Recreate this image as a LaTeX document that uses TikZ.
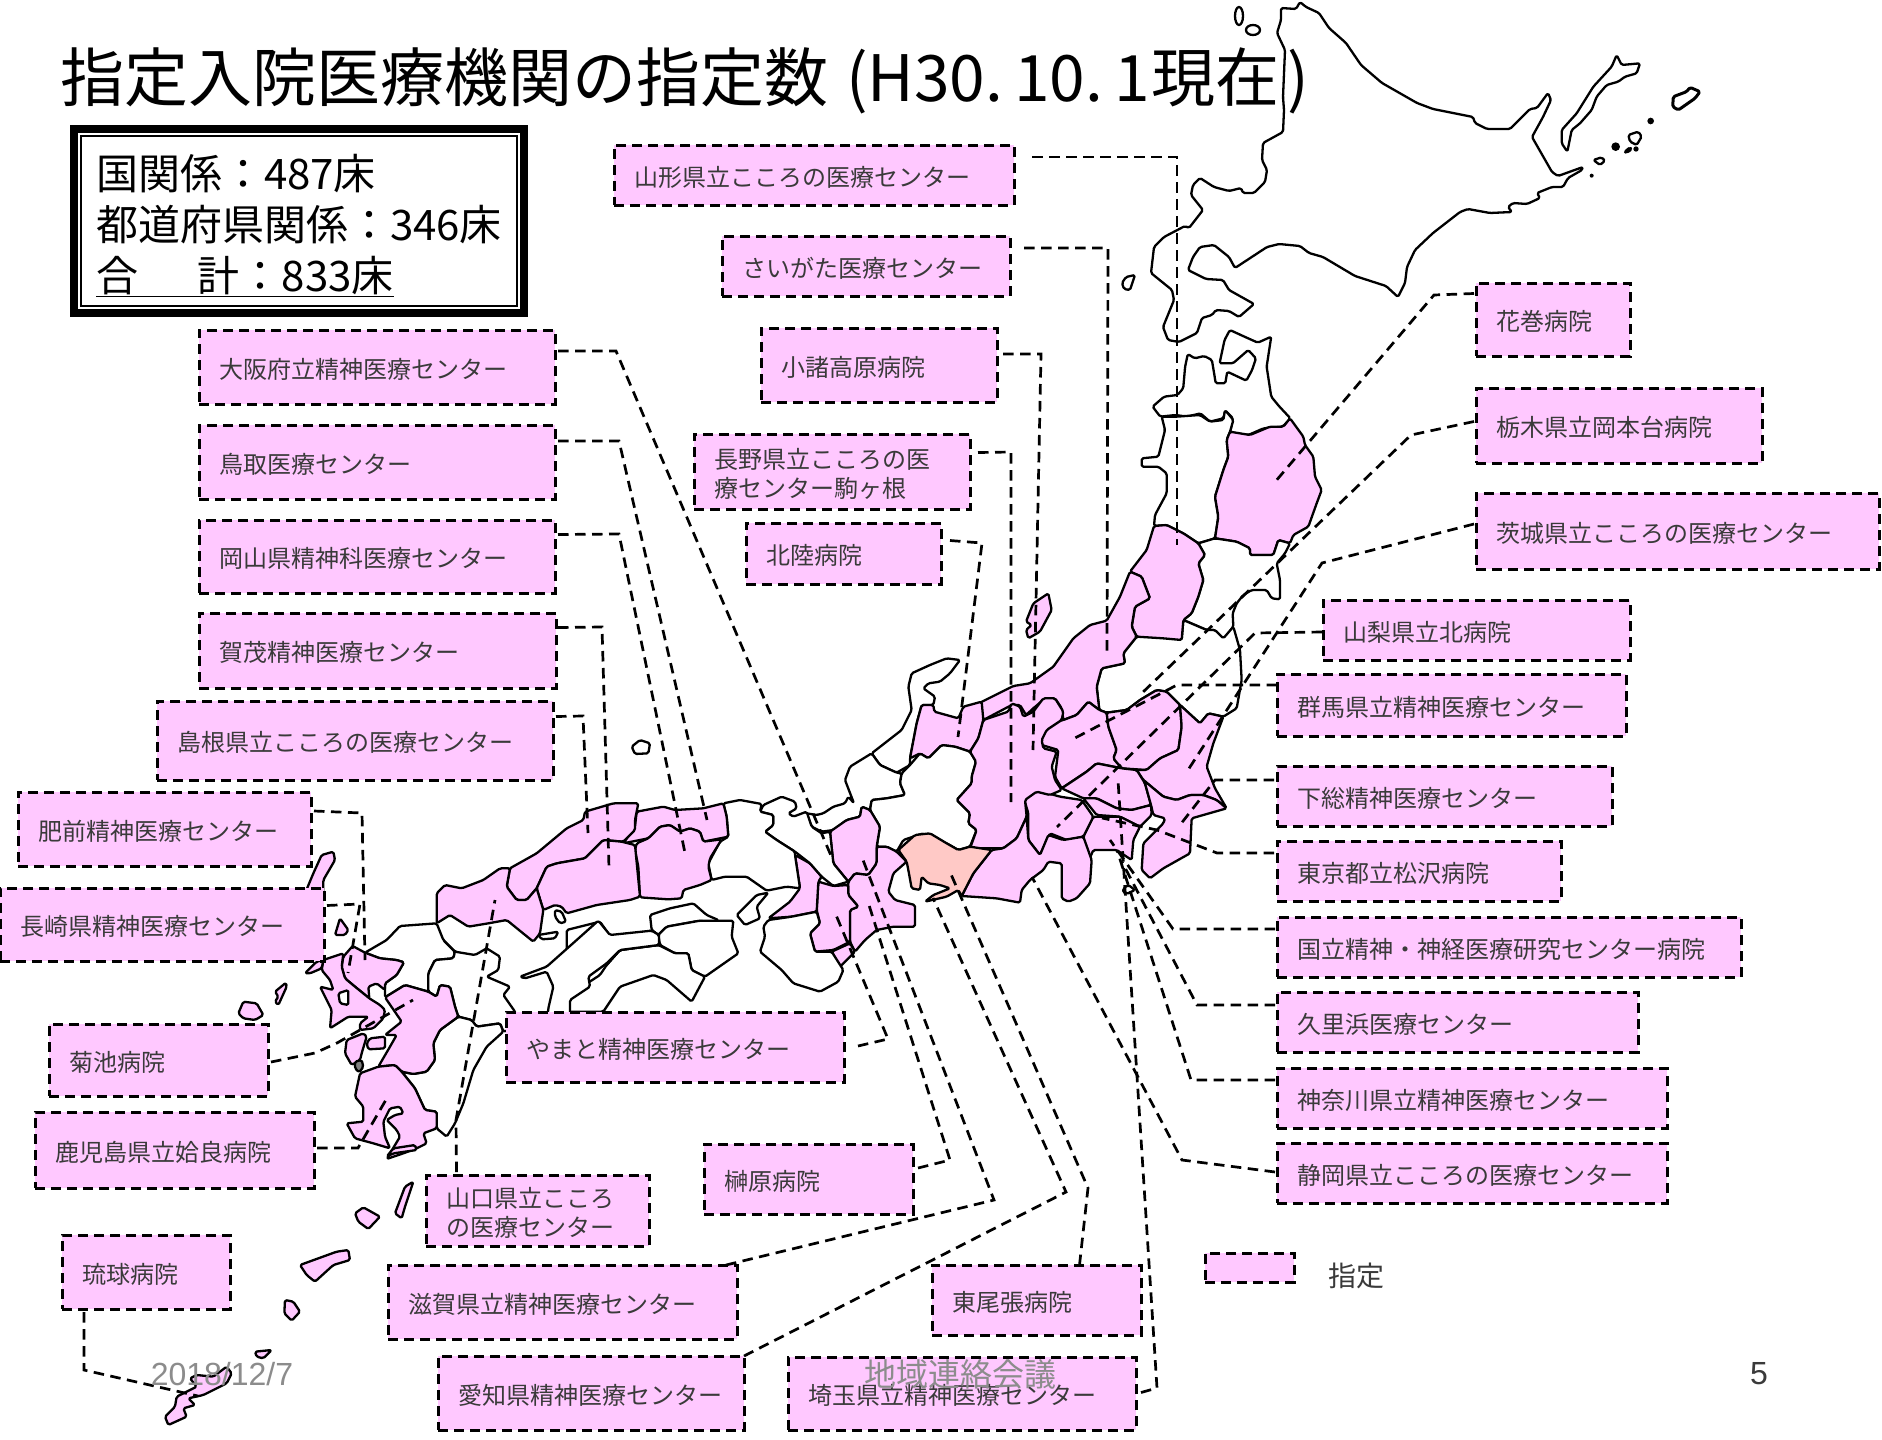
\documentclass[tikz,border=0pt]{standalone}
\usepackage{fontspec}
\setmainfont{Noto Sans CJK JP}
\newfontfamily\latinf{Liberation Sans}
\usetikzlibrary{calc}
\definecolor{pk}{HTML}{FFC8FF}
\definecolor{sal}{HTML}{FFC9C6}
\definecolor{tx}{HTML}{3A3A3A}
\definecolor{gr}{HTML}{8C8C8C}
\tikzset{
 zm/.style n args={3}{x=#1pt,y=-0.33333pt,shift={(#2pt,-#3pt)}},
 geo/.style={draw=black,line width=2.3pt,line join=round,rounded corners=1.6pt},
 pref/.style={geo,fill=pk},
 wpref/.style={geo,fill=white},
 apref/.style={geo,fill=sal},
 conn/.style={draw=black,line width=2.7pt,dash pattern=on 10.5pt off 6.5pt},
 hosp/.style={draw=black,fill=pk,line width=3pt,dash pattern=on 10pt off 6pt,anchor=north west,inner xsep=20pt,inner ysep=0pt,outer sep=0pt,align=left,text=tx,font=\fontsize{24}{29}\selectfont},
 foot/.style={font=\latinf\fontsize{32}{38}\selectfont,text=gr},
}
\newcommand{\bx}[6]{\pgfmathsetmacro{\bw}{#4-#2}\pgfmathsetmacro{\bh}{#5-#3}%
 \node[hosp,minimum width=\bw pt,minimum height=\bh pt,text width=\bw pt-40pt] (#1) at (#2,#3) {\raisebox{-5.5pt}[\height][\depth]{\begin{tabular}{@{}l@{}}#6\end{tabular}}};}
\begin{document}
\begin{tikzpicture}[x=1pt,y=-1pt]
\useasboundingbox (0,0) rectangle (1882,1440);
\fill[white] (0,0) rectangle (1882,1440);
% ---- Hokkaido
\draw[wpref] (1300,2)--(1306,7)--(1319,13)--(1329,28)--(1346,43)--(1361,65)--(1382,83)--(1417,103)--(1433,109)--(1473,117)--(1475,123)--(1487,129)--(1510,129)--(1530,109)--(1537,108)--(1548,93)--(1551,100)--(1543,117)--(1532,137)--(1552,172)--(1558,176)--(1583,167)--(1582,170)--(1568,178)--(1563,187)--(1552,187)--(1537,193)--(1540,198)--(1527,204)--(1513,203)--(1508,207)--(1512,212)--(1490,213)--(1468,209)--(1460,212)--(1433,233)--(1415,250)--(1407,267)--(1405,283)--(1398,297)--(1386,286)--(1355,276)--(1323,257)--(1309,253)--(1300,246)--(1279,244)--(1267,247)--(1235,268)--(1229,257)--(1214,245)--(1200,247)--(1193,257)--(1188,270)--(1206,279)--(1223,280)--(1229,290)--(1254,304)--(1239,317)--(1229,311)--(1216,310)--(1212,315)--(1202,318)--(1197,333)--(1179,342)--(1168,340)--(1163,327)--(1174,300)--(1172,290)--(1151,273)--(1154,247)--(1164,237)--(1185,226)--(1189,228)--(1203,210)--(1191,195)--(1193,185)--(1200,178)--(1214,187)--(1229,191)--(1241,188)--(1243,193)--(1254,193)--(1265,182)--(1267,170)--(1262,160)--(1263,143)--(1283,132)--(1284,110)--(1283,97)--(1285,50)--(1277,33)--(1281,20)--(1281,8)--(1296,9)--cycle;
\draw[wpref] (1122,283)--(1126,277)--(1135,275)--(1130,290)--(1124,289)--cycle;
\draw[geo] (1239,16) ellipse [x radius=4,y radius=9];
\draw[geo] (1253,30) ellipse [x radius=7,y radius=5];
\begin{scope}[zm={0.33333}{1380}{30}]
\draw[wpref] (545,300)--(590,250)--(640,170)--(695,110)--(710,75)--(725,105)--(780,100)--(770,130)--(735,140)--(715,155)--(680,165)--(650,200)--(635,240)--(600,280)--(575,300)--(562,365)--(545,340)--cycle;
\draw[wpref] (640,390)--(665,382)--(675,392)--(660,405)--cycle;
\fill (635,437) circle [radius=6];
\fill (707,350) circle [radius=13];
\draw[geo,fill=black] (733,366)--(750,352)--(755,358)--(740,368)--cycle;
\fill (768,357) circle [radius=8];
\draw[wpref] (745,315)--(775,305)--(785,320)--(770,345)--(750,335)--cycle;
\fill (812,273) circle [radius=10];
\draw[wpref,line width=3pt] (880,200)--(920,185)--(930,172)--(960,185)--(945,205)--(895,240)--(878,230)--cycle;
\end{scope}
% ---- Tohoku (zoom 1 = Aomori)
\begin{scope}[zm={0.38270}{900}{0}]
\draw[wpref] (752,1062)--(745,1100)--(740,1165)--(725,1185)--(690,1190)--(660,1220)--(680,1250)--(720,1245)--(750,1250)--(785,1240)--(810,1265)--(845,1255)--(850,1232)--(870,1255)--(862,1300)--(910,1305)--(950,1285)--(1000,1280)--(1020,1255)--(990,1218)--(970,1190)--(958,1100)--(970,1010)--(935,1028)--(900,1010)--(862,990)--(848,1020)--(835,1090)--(870,1090)--(910,1050)--(930,1075)--(920,1110)--(905,1142)--(855,1115)--(850,1150)--(825,1150)--(815,1080)--(795,1068)--(770,1075)--cycle;
\end{scope}
\begin{scope}[zm={0.33333}{950}{400}]
\draw[wpref] (635,50)--(680,50)--(750,45)--(780,65)--(820,60)--(825,30)--(850,60)--(840,95)--(830,120)--(835,170)--(820,210)--(795,290)--(805,350)--(795,415)--(745,430)--(700,400)--(650,375)--(612,378)--(615,345)--(650,280)--(650,220)--(625,200)--(575,200)--(575,175)--(625,170)--(645,90)--cycle;
\draw[pref] (840,95)--(900,105)--(960,80)--(1000,80)--(1020,55)--(1060,110)--(1065,135)--(1090,170)--(1095,230)--(1115,270)--(1100,310)--(1075,380)--(1030,405)--(1020,430)--(985,420)--(970,465)--(900,465)--(900,445)--(860,425)--(795,415)--(805,350)--(795,290)--(820,210)--(835,170)--(830,120)--cycle;
\draw[wpref] (745,430)--(795,415)--(860,425)--(900,445)--(900,465)--(970,465)--(985,420)--(1020,430)--(1005,460)--(980,490)--(990,540)--(990,598)--(965,595)--(950,570)--(905,570)--(880,585)--(860,610)--(848,640)--(850,680)--(820,720)--(795,690)--(770,690)--(700,660)--(725,640)--(745,590)--(760,540)--(745,490)--(765,465)--cycle;
\draw[wpref] (700,660)--(770,690)--(795,690)--(820,715)--(850,680)--(870,750)--(875,840)--(860,925)--(820,950)--(775,940)--(750,970)--(690,915)--(650,875)--(620,870)--(570,900)--(530,930)--(470,938)--(448,930)--(440,860)--(455,805)--(525,790)--(520,760)--(560,710)--(640,705)--(695,720)--cycle;
\draw[pref] (612,378)--(650,375)--(700,400)--(745,430)--(765,465)--(745,490)--(760,540)--(745,590)--(725,640)--(700,660)--(695,720)--(640,715)--(560,710)--(545,680)--(555,620)--(600,595)--(575,530)--(540,515)--(590,450)--cycle;
\draw[pref] (540,515)--(575,530)--(600,595)--(555,620)--(545,680)--(560,710)--(520,760)--(525,790)--(455,805)--(440,860)--(448,930)--(415,905)--(380,945)--(340,960)--(335,925)--(315,895)--(285,895)--(250,925)--(228,945)--(210,915)--(185,915)--(100,960)--(90,908)--(190,858)--(240,850)--(310,800)--(370,715)--(420,675)--(470,662)--(510,590)--cycle;
\draw[pref] (295,580)--(305,630)--(270,695)--(235,715)--(228,690)--(245,675)--(228,665)--(250,610)--cycle;
% Kanto
\draw[pref] (448,930)--(470,938)--(475,980)--(500,1050)--(490,1075)--(515,1105)--(440,1090)--(410,1115)--(335,1165)--(315,1130)--(325,1050)--(275,1035)--(275,1000)--(300,970)--(340,960)--(380,945)--(415,905)--cycle;
\draw[pref] (470,938)--(530,930)--(570,900)--(620,870)--(650,875)--(690,915)--(695,980)--(685,1050)--(630,1075)--(590,1110)--(515,1105)--(490,1075)--(500,1050)--(475,980)--cycle;
\draw[pref] (690,915)--(750,970)--(775,940)--(820,950)--(790,1030)--(770,1100)--(795,1165)--(830,1225)--(800,1200)--(760,1185)--(720,1185)--(680,1200)--(640,1190)--(580,1140)--(560,1110)--(590,1110)--(630,1075)--(685,1050)--(695,980)--cycle;
\draw[pref] (335,1165)--(410,1115)--(440,1090)--(515,1105)--(560,1110)--(585,1150)--(603,1215)--(545,1230)--(500,1225)--(440,1195)--(400,1195)--cycle;
\draw[pref] (580,1140)--(640,1190)--(680,1200)--(720,1185)--(760,1185)--(800,1200)--(830,1225)--(725,1255)--(720,1360)--(640,1405)--(600,1435)--(575,1410)--(580,1330)--(640,1270)--(645,1255)--(610,1245)--(603,1215)--(585,1150)--cycle;
\draw[pref] (400,1195)--(440,1195)--(500,1225)--(545,1230)--(603,1215)--(605,1245)--(570,1280)--(510,1250)--(440,1245)--cycle;
\draw[pref] (430,1250)--(510,1250)--(570,1280)--(550,1320)--(545,1380)--(500,1350)--(430,1350)--(415,1385)--(400,1310)--cycle;
\draw[pref] (220,1190)--(260,1170)--(330,1190)--(395,1200)--(430,1250)--(400,1310)--(350,1320)--(300,1300)--(270,1365)--(235,1320)--(235,1240)--cycle;
\draw[geo,fill=white] (520,1465)--(535,1455)--(555,1470)--(530,1482)--(520,1478)--cycle;
\end{scope}
% ---- Chubu, Kinki, Chugoku-east, Shikoku-east (zoom 3)
\begin{scope}[zm={0.33333}{600}{650}]
\draw[wpref] (1080,30)--(1040,25)--(990,45)--(935,70)--(925,110)--(935,180)--(905,240)--(815,310)--(840,345)--(890,368)--(930,345)--(930,325)--(950,220)--(965,165)--(1000,165)--(1005,140)--(970,115)--(985,100)--(1020,95)--(1050,70)--cycle;
\draw[pref] (965,165)--(1000,165)--(1003,185)--(1075,205)--(1090,170)--(1145,155)--(1150,210)--(1135,265)--(1110,305)--(1065,290)--(1025,285)--(985,325)--(960,310)--(930,325)--(950,220)--cycle;
\draw[wpref] (815,310)--(840,345)--(890,368)--(905,370)--(900,400)--(915,435)--(860,445)--(815,450)--(810,480)--(785,470)--(780,500)--(740,510)--(700,540)--(665,545)--(635,530)--(620,490)--(650,495)--(670,490)--(700,470)--(735,460)--(745,440)--(762,460)--(735,390)--(750,350)--cycle;
\draw[wpref] (905,370)--(930,345)--(960,310)--(985,325)--(1025,285)--(1065,290)--(1110,305)--(1128,335)--(1115,380)--(1115,400)--(1070,450)--(1110,490)--(1105,520)--(1130,540)--(1110,590)--(1075,600)--(1040,580)--(1000,570)--(970,550)--(910,570)--(890,605)--(860,590)--(830,590)--(840,530)--(810,480)--(815,450)--(860,445)--(915,435)--(900,400)--cycle;
\draw[pref] (1110,305)--(1135,265)--(1150,210)--(1225,185)--(1235,160)--(1260,170)--(1270,200)--(1300,185)--(1330,145)--(1365,145)--(1390,185)--(1385,210)--(1340,240)--(1325,270)--(1330,295)--(1370,305)--(1355,350)--(1365,390)--(1385,420)--(1350,435)--(1310,425)--(1275,450)--(1280,500)--(1250,565)--(1210,595)--(1110,595)--(1130,540)--(1105,520)--(1110,490)--(1070,450)--(1115,400)--(1115,380)--(1128,335)--cycle;
\draw[pref] (1175,600)--(1210,595)--(1250,565)--(1280,500)--(1285,570)--(1320,615)--(1345,555)--(1390,570)--(1450,560)--(1475,630)--(1470,700)--(1430,745)--(1405,755)--(1385,745)--(1385,640)--(1345,635)--(1330,660)--(1290,690)--(1265,720)--(1260,758)--(1190,745)--(1085,738)--(1120,670)--cycle;
\draw[apref] (895,600)--(945,555)--(990,550)--(1040,580)--(1075,600)--(1110,590)--(1175,600)--(1120,670)--(1085,738)--(1075,720)--(1040,740)--(975,755)--(1000,735)--(1050,715)--(1020,705)--(985,700)--(965,680)--(960,720)--(935,715)--(925,660)--(920,635)--cycle;
\draw[pref] (690,545)--(740,510)--(780,500)--(785,470)--(810,480)--(840,530)--(830,590)--(830,640)--(805,675)--(765,670)--(745,695)--(700,640)--cycle;
\draw[pref] (830,590)--(860,590)--(890,605)--(920,635)--(880,670)--(865,725)--(885,750)--(945,765)--(945,830)--(880,830)--(830,840)--(795,870)--(765,905)--(750,875)--(750,780)--(775,770)--(745,735)--(745,695)--(765,670)--(805,675)--(830,640)--cycle;
\draw[pref] (655,695)--(700,708)--(745,705)--(745,735)--(775,770)--(750,780)--(750,875)--(700,900)--(645,905)--(630,850)--(660,820)--(650,780)--cycle;
\draw[pref] (695,905)--(750,880)--(765,905)--(720,950)--cycle;
\draw[pref] (585,615)--(630,640)--(665,680)--(655,695)--(650,785)--(575,800)--(505,805)--(570,755)--(600,715)--cycle;
\draw[wpref] (505,810)--(575,800)--(650,785)--(660,820)--(630,850)--(645,905)--(695,905)--(730,960)--(715,995)--(660,1025)--(580,1000)--(545,960)--(480,905)--(495,860)--(490,830)--cycle;
\draw[wpref] (490,465)--(545,440)--(585,455)--(590,475)--(565,490)--(580,500)--(620,485)--(635,530)--(665,550)--(690,545)--(700,640)--(745,695)--(700,708)--(665,680)--(630,640)--(585,605)--(530,570)--(495,545)--(520,525)--(520,495)--(480,485)--cycle;
\draw[wpref] (370,460)--(420,450)--(485,462)--(480,485)--(520,495)--(520,525)--(495,545)--(530,570)--(585,605)--(585,615)--(600,715)--(560,710)--(500,722)--(440,680)--(375,680)--(335,690)--(325,640)--(360,575)--(385,560)--(380,500)--cycle;
\draw[wpref] (505,728)--(470,735)--(410,795)--(435,825)--(480,805)--(470,770)--cycle;
\draw[pref] (110,485)--(190,470)--(225,480)--(310,475)--(370,460)--(380,500)--(385,560)--(310,575)--(300,545)--(270,535)--(240,545)--(210,525)--(180,530)--(145,565)--(70,580)--(105,530)--cycle;
\draw[pref] (110,580)--(145,565)--(180,530)--(210,525)--(240,545)--(270,535)--(300,545)--(310,575)--(365,568)--(330,625)--(325,650)--(335,690)--(300,705)--(250,720)--(245,745)--(205,748)--(120,742)--(115,650)--(105,600)--cycle;
\draw[wpref] (95,290)--(120,270)--(150,280)--(145,310)--(105,312)--cycle;
% Shikoku east
\draw[wpref] (150,795)--(210,775)--(280,760)--(320,795)--(355,810)--(355,822)--(300,812)--(200,830)--(175,855)--(155,840)--cycle;
\draw[wpref] (175,855)--(200,830)--(300,812)--(400,812)--(395,860)--(415,910)--(315,980)--(275,960)--(265,910)--(225,910)--(180,885)--cycle;
\draw[wpref] (175,885)--(225,910)--(265,910)--(275,960)--(315,980)--(275,1055)--(200,990)--(160,975)--(60,1010)--(10,1085)--(-100,1085)--(-100,1000)--(20,945)--(60,900)--cycle;
\draw[wpref] (-100,840)--(0,815)--(30,858)--(130,852)--(155,840)--(175,855)--(175,885)--(60,900)--(20,945)--(0,975)--(-100,1040)--cycle;
\end{scope}
% ---- Chugoku west, Kyushu (zoom 4)
\begin{scope}[zm={0.33333}{280}{760}]
\draw[pref] (690,325)--(695,322)--(770,280)--(860,205)--(910,180)--(915,155)--(1000,130)--(1075,130)--(1065,180)--(1065,210)--(1030,245)--(970,240)--(915,295)--(830,310)--(800,320)--(770,385)--(740,420)--(710,420)--(680,380)--cycle;
\draw[pref] (770,385)--(800,320)--(830,310)--(915,295)--(970,240)--(1025,245)--(1065,255)--(1080,410)--(1050,420)--(950,435)--(860,460)--(845,440)--(825,435)--(790,450)--cycle;
\draw[pref] (470,490)--(470,400)--(495,375)--(545,385)--(610,360)--(660,325)--(690,325)--(680,380)--(710,420)--(740,420)--(770,385)--(790,450)--(780,520)--(760,545)--(680,480)--(625,490)--(565,500)--(510,465)--cycle;
\draw[wpref] (825,450)--(845,455)--(858,485)--(840,490)--(825,470)--cycle;
\draw[wpref] (775,525)--(835,515)--(825,535)--(785,538)--cycle;
% Shikoku west
\draw[wpref] (720,650)--(800,620)--(890,540)--(955,482)--(990,525)--(1115,512)--(1137,525)--(1137,555)--(1020,570)--(980,610)--(925,650)--(930,680)--(870,720)--(870,800)--(800,800)--(805,745)--(820,680)--(800,635)--(735,655)--cycle;
% Kyushu
\draw[wpref] (255,578)--(320,540)--(360,498)--(470,490)--(490,540)--(525,575)--(520,595)--(465,600)--(445,640)--(445,695)--(375,675)--(315,712)--(315,670)--(350,645)--(372,607)--(350,600)--(300,595)--cycle;
\draw[wpref] (490,540)--(525,575)--(585,585)--(620,565)--(660,590)--(655,630)--(620,650)--(690,680)--(670,705)--(705,755)--(720,800)--(670,815)--(660,790)--(590,800)--(575,780)--(535,770)--(525,740)--(510,680)--(480,675)--(470,710)--(445,695)--(445,640)--(465,600)--(520,595)--(525,575)--cycle;
\draw[wpref] (535,770)--(575,780)--(590,800)--(660,790)--(670,815)--(620,860)--(580,930)--(550,1030)--(525,1090)--(500,1130)--(470,1105)--(470,1055)--(435,1050)--(405,985)--(365,935)--(400,942)--(440,935)--(465,900)--(460,850)--(480,810)--cycle;
\draw[pref] (190,590)--(218,558)--(255,578)--(300,595)--(350,600)--(372,607)--(350,645)--(315,670)--(315,690)--(290,670)--(265,680)--(268,715)--(225,680)--(195,655)--(185,620)--cycle;
\draw[pref] (130,600)--(190,580)--(185,620)--(195,655)--(225,680)--(268,715)--(300,735)--(315,750)--(310,775)--(280,805)--(240,810)--(240,790)--(265,770)--(205,770)--(150,805)--(155,750)--(120,680)--(160,690)--(150,660)--(125,630)--cycle;
\draw[wpref] (175,700)--(205,690)--(205,735)--(180,730)--cycle;
\draw[pref] (315,712)--(375,675)--(445,695)--(470,710)--(480,675)--(510,680)--(525,740)--(535,770)--(480,810)--(460,850)--(465,900)--(440,935)--(400,942)--(365,935)--(345,915)--(295,920)--(330,860)--(350,825)--(315,825)--(365,785)--cycle;
\draw[pref] (260,850)--(270,835)--(315,830)--(315,865)--(265,868)--cycle;
\draw[pref] (200,840)--(250,820)--(260,830)--(245,880)--(240,900)--(215,915)--(195,880)--cycle;
\draw[pref] (240,940)--(295,920)--(345,915)--(365,935)--(405,985)--(435,1050)--(470,1055)--(470,1105)--(430,1120)--(440,1150)--(410,1165)--(370,1180)--(320,1197)--(360,1130)--(350,1110)--(320,1080)--(345,1065)--(370,1060)--(360,1040)--(330,1045)--(310,1085)--(315,1130)--(330,1165)--(280,1150)--(225,1135)--(200,1090)--(250,1085)--(250,1040)--(225,1010)--cycle;
\draw[geo,fill=gray] (225,905)--(245,900)--(250,920)--(238,937)--(225,925)--cycle;
% islands
\draw[pref] (75,400)--(100,340)--(125,285)--(160,275)--(165,300)--(130,360)--(130,400)--cycle;
\draw[pref] (165,525)--(180,475)--(205,510)--(195,525)--cycle;
\draw[pref] (75,640)--(110,605)--(130,600)--(125,625)--(90,640)--cycle;
\end{scope}
\begin{scope}[zm={0.33333}{210}{930}]
\draw[pref] (195,185)--(228,158)--(230,170)--(205,225)--(195,215)--(205,200)--cycle;
\draw[pref] (85,250)--(100,215)--(140,220)--(160,255)--(135,270)--(100,265)--cycle;
\end{scope}
\begin{scope}[zm={0.33333}{100}{1150}]
\draw[pref] (940,95)--(915,170)--(905,205)--(885,190)--(915,110)--cycle;
\draw[pref] (765,190)--(790,172)--(840,200)--(805,237)--(775,215)--cycle;
\draw[pref] (600,345)--(710,305)--(745,300)--(750,330)--(700,345)--(645,395)--(620,375)--cycle;
\draw[pref] (555,450)--(580,455)--(600,485)--(575,512)--(553,490)--cycle;
\draw[pref] (465,605)--(515,600)--(490,625)--(470,620)--cycle;
\draw[pref] (395,670)--(380,650)--(340,680)--(290,675)--(270,685)--(290,710)--(230,740)--(225,770)--(195,800)--(205,825)--(260,800)--(250,775)--(285,765)--(265,745)--(310,735)--(380,700)--cycle;
\draw[pref] (860,20)--(880,10)--(950,0)--(945,-15)--(880,-5)--cycle;
\end{scope}
% ---- connector ends
\coordinate (e1) at (1177,545); \coordinate (e2) at (1107,652); \coordinate (e3) at (1033,750);
\coordinate (e4) at (1011,802); \coordinate (e5) at (958,737); \coordinate (e6) at (832,858);
\coordinate (e7) at (707,820); \coordinate (e8) at (685,853); \coordinate (e9) at (609,868);
\coordinate (e10) at (588,833); \coordinate (e11) at (365,960); \coordinate (e12) at (348,973);
\coordinate (e13) at (413,1000); \coordinate (e14) at (387,1098); \coordinate (e15) at (495,900);
\coordinate (e16) at (836,915); \coordinate (e17) at (868,902); \coordinate (e18) at (198,1396);
\coordinate (e19) at (863,860); \coordinate (e20) at (933,898); \coordinate (e21) at (950,872);
\coordinate (e22) at (1118,780); \coordinate (e23) at (1275,482); \coordinate (e24) at (1142,693);
\coordinate (e25) at (1188,770); \coordinate (e26) at (1057,827); \coordinate (e27) at (1075,738);
\coordinate (e28) at (1180,825); \coordinate (e29) at (1102,818); \coordinate (e30) at (1110,840);
\coordinate (e31) at (1122,862); \coordinate (e32) at (1117,850); \coordinate (e33) at (1032,877);
% ---- boxes
\bx{yamagata}{614}{145}{1014}{205}{山形県立こころの医療センター}
\bx{saigata}{722}{236}{1010}{296}{さいがた医療センター}
\bx{komoro}{761}{328}{997}{402}{小諸高原病院}
\bx{nagano}{694}{434}{970}{509}{長野県立こころの医\\療センター駒ヶ根}
\bx{hokuriku}{746}{523}{941}{584}{北陸病院}
\bx{osaka}{199}{330}{555}{404}{大阪府立精神医療センター}
\bx{tottori}{199}{425}{555}{499}{鳥取医療センター}
\bx{okayama}{199}{520}{555}{593}{岡山県精神科医療センター}
\bx{kamo}{199}{613}{556}{688}{賀茂精神医療センター}
\bx{shimane}{157}{701}{553}{780}{島根県立こころの医療センター}
\bx{hizen}{18}{792}{311}{866}{肥前精神医療センター}
\bx{nagasaki}{0}{888}{324}{961}{長崎県精神医療センター}
\bx{kikuchi}{49}{1024}{268}{1096}{菊池病院}
\bx{kagoshima}{35}{1112}{314}{1188}{鹿児島県立姶良病院}
\bx{yamaguchi}{426}{1175}{649}{1246}{山口県立こころ\\の医療センター}
\bx{yamato}{506}{1012}{844}{1082}{やまと精神医療センター}
\bx{sakakibara}{704}{1144}{913}{1214}{榊原病院}
\bx{ryukyu}{62}{1235}{230}{1309}{琉球病院}
\bx{shiga}{388}{1265}{737}{1339}{滋賀県立精神医療センター}
\bx{aichi}{438}{1356}{744}{1430}{愛知県精神医療センター}
\bx{higashi}{932}{1265}{1141}{1335}{東尾張病院}
\bx{saitama}{788}{1357}{1136}{1430}{埼玉県立精神医療センター}
\bx{hanamaki}{1476}{283}{1630}{356}{花巻病院}
\bx{tochigi}{1476}{388}{1762}{463}{栃木県立岡本台病院}
\bx{ibaraki}{1476}{493}{1879}{569}{茨城県立こころの医療センター}
\bx{yamanashi}{1323}{600}{1630}{660}{山梨県立北病院}
\bx{gunma}{1277}{674}{1626}{736}{群馬県立精神医療センター}
\bx{shimofusa}{1277}{766}{1612}{826}{下総精神医療センター}
\bx{tokyo}{1277}{841}{1561}{901}{東京都立松沢病院}
\bx{kokuritsu}{1277}{917}{1741}{977}{国立精神・神経医療研究センター病院}
\bx{kurihama}{1277}{992}{1638}{1052}{久里浜医療センター}
\bx{kanagawa}{1277}{1068}{1667}{1128}{神奈川県立精神医療センター}
\bx{shizuoka}{1277}{1143}{1667}{1203}{静岡県立こころの医療センター}
% ---- connectors
\draw[conn] (yamagata.east) ++(18,-18) -- (1177,157) -- (e1);
\draw[conn] (saigata.east) ++(14,-18) -- (1108,248) -- (e2);
\draw[conn] (komoro.east) ++(6,-11) -- (1041,354) -- (e3);
\draw[conn] (nagano.east) ++(8,-19) -- (1011,452) -- (e4);
\draw[conn] (hokuriku.east) ++(9,-13) -- (982,543) -- (e5);
\draw[conn] (osaka.east) ++(3,-16) -- (616,351) -- (e6);
\draw[conn] (tottori.east) ++(3,-21) -- (619,441) -- (e7);
\draw[conn] (okayama.east) ++(3,-22) -- (619,534) -- (e8);
\draw[conn] (kamo.east) ++(2,-23) -- (602,627) -- (e9);
\draw[conn] (shimane.east) ++(3,-24) -- (583,716) -- (e10);
\draw[conn] (hizen.east) ++(3,-18) -- (362,813) -- (e11);
\draw[conn] (nagasaki.east) ++(3,-19) -- (360,904) -- (e12);
\draw[conn] (kikuchi.east) ++(3,2) -- (315,1053) -- (337,1043) -- (e13);
\draw[conn] (kagoshima.east) ++(3,-2) -- (358,1148) -- (e14);
\draw[conn] (yamaguchi.north) ++(-81,-3) -- (456,1120) -- (e15);
\draw[conn] (yamato.east) ++(14,-1) -- (888,1039) -- (e16);
\draw[conn] (sakakibara.east) ++(5,-11) -- (950,1160) -- (e17);
\draw[conn] (ryukyu.south) ++(-62,3) -- (84,1370) -- (e18);
\draw[conn] (shiga.north east) ++(-11,0) -- (994,1200) -- (e19);
\draw[conn] (aichi.north east) -- (1066,1192) -- (e20);
\draw[conn] (higashi.north) ++(43,0) -- (1088,1188) -- (e21);
\draw[conn] (saitama.east) ++(5,-1) -- (1157,1388) -- (e22);
\draw[conn] (hanamaki.west) ++(-2,-26) -- (1434,295) -- (e23);
\draw[conn] (tochigi.west) ++(-2,-4) -- (1411,435) -- (e24);
\draw[conn] (ibaraki.west) ++(-2,-7) -- (1322,563) -- (e25);
\draw[conn] (yamanashi.west) ++(-1,2) -- (1255,633) -- (e26);
\draw[conn] (gunma.west) ++(0,-20) -- (1177,685) -- (e27);
\draw[conn] (shimofusa.west) ++(-3,-16) -- (1215,780) -- (e28);
\draw[conn] (tokyo.west) ++(-3,-18) -- (1217,853) -- (1157,830) -- (e29);
\draw[conn] (kokuritsu.west) ++(-2,-18) -- (1173,929) -- (e30);
\draw[conn] (kurihama.west) ++(-2,-17) -- (1197,1005) -- (e31);
\draw[conn] (kanagawa.west) ++(-2,-18) -- (1191,1080) -- (e32);
\draw[conn] (shizuoka.west) ++(-2,-1) -- (1182,1160) -- (e33);
% ---- legend
\node[draw=black,fill=pk,line width=3pt,dash pattern=on 10pt off 6pt,minimum width=89pt,minimum height=29pt,outer sep=0pt,anchor=north west] (legend) at (1205,1253) {};
\node[anchor=west,text=tx,font=\fontsize{28}{34}\selectfont,inner sep=0pt] (legendtext) at (1328,1276) {指定};
% ---- title
\node[anchor=west,inner sep=0pt,font=\fontsize{64}{76}\selectfont] (title) at (60,81) {指定入院医療機関の指定数\hspace{18pt}(H30.\hspace{11pt}10.\hspace{11pt}1\hspace{2pt}現在\hspace{8pt})};
% ---- summary box
\node[draw=black,fill=white,line width=8pt,minimum width=450pt,minimum height=184pt,anchor=north west,inner xsep=22pt,inner ysep=0pt,outer sep=0pt,align=left,text width=406pt,font=\fontsize{42}{51}\selectfont] (summary) at (74,129) {\raisebox{-9pt}[\height][\depth]{\begin{tabular}{@{}l@{}}国関係：487床\\都道府県関係：346床\\\underline{合\hspace{60pt}計：833床}\end{tabular}}};
\draw[line width=1.6pt] ($(summary.north west)+(7,7)$) rectangle ($(summary.south east)+(-7,-7)$);
% ---- footer
\node[foot,anchor=center,inner sep=0pt] (date) at (222,1374) {2018/12/7};
\node[anchor=center,inner sep=0pt,text=gr,font=\fontsize{32}{38}\selectfont] (meeting) at (960,1374) {地域連絡会議};
\node[foot,anchor=center,inner sep=0pt,text=tx] (page) at (1759,1374) {5};
\end{tikzpicture}
\end{document}
